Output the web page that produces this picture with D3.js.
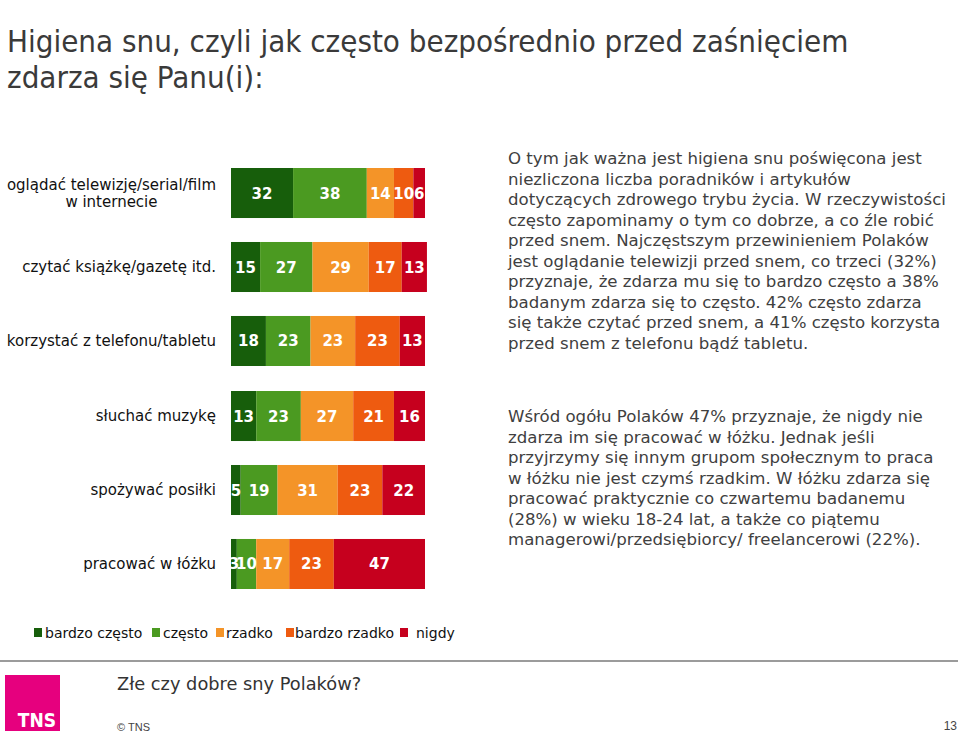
<!DOCTYPE html>
<html><head><meta charset="utf-8">
<script src="https://cdn.jsdelivr.net/npm/d3@7"></script>
<style>body{margin:0;background:#fff}svg{display:block}</style>
</head><body>
<script>
// ---- data ----
const seriesNames = ["bardzo często", "często", "rzadko", "bardzo rzadko", "nigdy"];
const seriesColors = ["#175e0b", "#4b9a21", "#f49428", "#ee5b10", "#c6001e"];
const topCategories = [["oglądać telewizję/serial/film", "w internecie"], ["czytać książkę/gazetę itd."], ["korzystać z telefonu/tabletu"]];
const topValues = [[32, 38, 14, 10, 6], [15, 27, 29, 17, 13], [18, 23, 23, 23, 13]];
const bottomCategories = [["słuchać muzykę"], ["spożywać posiłki"], ["pracować w łóżku"]];
const bottomValues = [[13, 23, 27, 21, 16], [5, 19, 31, 23, 22], [3, 10, 17, 23, 47]];
const titleLines = ["Higiena snu, czyli jak często bezpośrednio przed zaśnięciem", "zdarza się Panu(i):"];
const text1 = ["O tym jak ważna jest higiena snu poświęcona jest", "niezliczona liczba poradników i artykułów", "dotyczących zdrowego trybu życia. W rzeczywistości", "często zapominamy o tym co dobrze, a co źle robić", "przed snem. Najczęstszym przewinieniem Polaków", "jest oglądanie telewizji przed snem, co trzeci (32%)", "przyznaje, że zdarza mu się to bardzo często a 38%", "badanym zdarza się to często. 42% często zdarza", "się także czytać przed snem, a 41% często korzysta", "przed snem z telefonu bądź tabletu."];
const text2 = ["Wśród ogółu Polaków 47% przyznaje, że nigdy nie", "zdarza im się pracować w łóżku. Jednak jeśli", "przyjrzymy się innym grupom społecznym to praca", "w łóżku nie jest czymś rzadkim. W łóżku zdarza się", "pracować praktycznie co czwartemu badanemu", "(28%) w wieku 18-24 lat, a także co piątemu", "managerowi/przedsiębiorcy/ freelancerowi (22%)."];
const footerTitle = "Złe czy dobre sny Polaków?";
const pageNumber = "13";

const W = 960, H = 735;
const svg = d3.select("body").append("svg").attr("width", W).attr("height", H);
const font = "'DejaVu Sans', Verdana, sans-serif";
const color = d3.scaleOrdinal().domain(seriesNames).range(seriesColors);

// title
const title = svg.append("g").attr("fill", "#3a3a3a")
  .style("font-family", "'DejaVu Sans Condensed', 'DejaVu Sans', sans-serif").style("font-size", "31px");
titleLines.forEach((t, i) => title.append("text").attr("x", 7).attr("y", 52 + i * 36).text(t));

function drawChart(cats, vals, y0) {
  const x = d3.scaleLinear().domain([0, 100]).range([231, 425]);
  const y = d3.scaleBand().domain(d3.range(cats.length)).range([y0, y0 + 198]).paddingInner(0.324).paddingOuter(0);
  const g = svg.append("g");
  vals.forEach((row, i) => {
    let acc = 0;
    const segs = row.map((v, k) => { const s = {k, v, x0: acc, x1: acc + v}; acc += v; return s; });
    const rg = g.append("g");
    rg.selectAll("rect").data(segs).join("rect")
      .attr("x", d => x(d.x0)).attr("width", d => x(d.x1) - x(d.x0))
      .attr("y", y(i)).attr("height", y.bandwidth())
      .attr("fill", d => color(seriesNames[d.k]));
    rg.selectAll("text").data(segs).join("text")
      .attr("x", d => (x(d.x0) + x(d.x1)) / 2).attr("y", y(i) + y.bandwidth() / 2 + 5.5)
      .attr("text-anchor", "middle").attr("fill", "#fff")
      .style("font-family", font).style("font-weight", "bold").style("font-size", "15px")
      .text(d => d.v);
    const lab = g.append("text").attr("text-anchor", "middle").attr("fill", "#111")
      .style("font-family", font).style("font-size", "15px");
    const lines = cats[i];
    const cy = y(i) + y.bandwidth() / 2;
    lines.forEach((l, j) => {
      lab.append("tspan").attr("x", 0).attr("y", cy + 5 + (j - (lines.length - 1) / 2) * 17).text(l);
    });
    const bb = lab.node().getBBox();
    lab.selectAll("tspan").attr("x", 216 - bb.width / 2);
  });
}
drawChart(topCategories, topValues, 168);
drawChart(bottomCategories, bottomValues, 391);

// paragraphs
function para(lines, x, y) {
  const t = svg.append("text").attr("fill", "#404040").style("font-family", font).style("font-size", "16.6px");
  lines.forEach((l, i) => t.append("tspan").attr("x", x).attr("y", y + i * 20.5).text(l));
}
para(text1, 508, 164);
para(text2, 508, 422);

// legend
const legendX = [34, 152, 216, 286, 400];
const textX = [45, 163, 226, 295, 416];
const lg = svg.append("g");
seriesNames.forEach((s, i) => {
  lg.append("rect").attr("x", legendX[i]).attr("y", 628).attr("width", 8).attr("height", 9).attr("fill", color(s));
  lg.append("text").attr("x", textX[i]).attr("y", 638).attr("fill", "#111")
    .style("font-family", font).style("font-size", "14px").text(s);
});

// footer
svg.append("line").attr("x1", 0).attr("x2", 958).attr("y1", 661).attr("y2", 661).attr("stroke", "#7a7a7a").attr("stroke-width", 1.5);
svg.append("rect").attr("x", 5).attr("y", 675).attr("width", 55).attr("height", 56).attr("fill", "#e6007e");
svg.append("text").attr("x", 37).attr("y", 727).attr("text-anchor", "middle").attr("fill", "#fff")
  .style("font-family", "'DejaVu Sans Condensed', 'DejaVu Sans', sans-serif").style("font-weight", "bold").style("font-size", "19px").text("TNS");
svg.append("text").attr("x", 117).attr("y", 690).attr("fill", "#333")
  .style("font-family", font).style("font-size", "17.8px").text(footerTitle);
svg.append("text").attr("x", 117).attr("y", 731).attr("fill", "#444")
  .style("font-family", "'Liberation Sans', Arial, sans-serif").style("font-size", "11px").text("© TNS");
svg.append("text").attr("x", 957).attr("y", 730).attr("text-anchor", "end").attr("fill", "#444")
  .style("font-family", "'Liberation Sans', Arial, sans-serif").style("font-size", "12px").text(pageNumber);
</script>
</body></html>
